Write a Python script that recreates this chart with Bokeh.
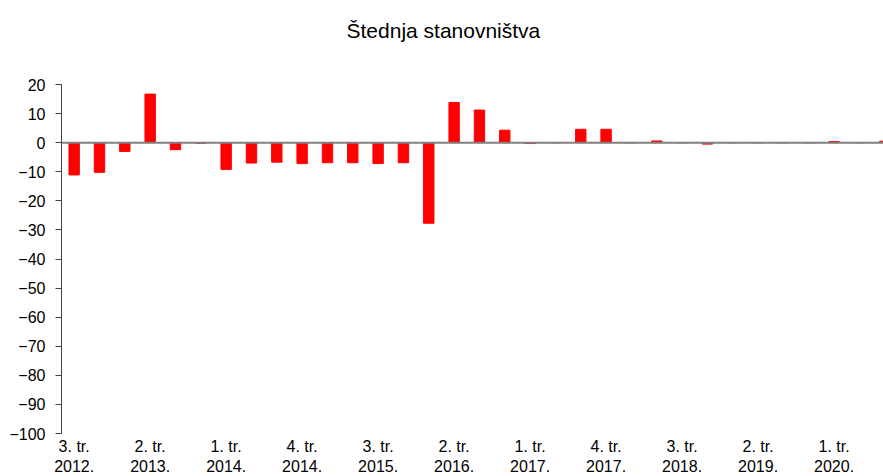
from bokeh.plotting import figure
from bokeh.models import Range1d, FixedTicker, Span, Title
from bokeh.embed import file_html
from bokeh.resources import INLINE

title_text = "Štednja stanovništva"

quarters = []
for y in range(2012, 2021):
    for q in range(1, 5):
        if (y == 2012 and q < 3) or (y == 2020 and q > 3):
            continue
        quarters.append(f"{q}. tr.\n{y}.")

values = [-11.1, -10.2, -3.0, 16.7, -2.4, -0.2, -9.2, -7.0, -6.7, -7.2,
          -6.9, -6.9, -7.2, -6.9, -27.7, 13.8, 11.2, 4.3, -0.3, 0.0,
          4.6, 4.6, 0.0, 0.6, 0.0, -0.5, 0.0, 0.0, 0.0, 0.0,
          0.4, 0.0, 0.5]

y_ticks = list(range(-100, 21, 10))

xs = list(range(1, len(quarters) + 1))
label_positions = xs[::3]

p = figure(width=883, height=476, output_backend="svg", toolbar_location=None,
           x_range=Range1d(0.5, 0.5 + 822 / 25.33), y_range=Range1d(-100, 20),
           min_border_left=61, min_border_right=0, min_border_top=84,
           min_border_bottom=43)
p.frame_width = 822
p.frame_height = 349

p.title.text = title_text
p.title.align = "left"
p.title.offset = 285
p.title.text_font = "Liberation Sans"
p.title.text_font_size = "21px"
p.title.text_font_style = "normal"
p.title.text_color = "black"
p.title.standoff = 0

# empty spacer panel between the title and the plot frame
spacer = Title(text=" ", text_font_size="10px", standoff=30)
p.above = [spacer] + [r for r in p.above if r is not spacer]

p.vbar(x=xs, top=values, bottom=0, width=0.41, color="#FF0000")

p.add_layout(Span(location=0, dimension="width", line_color="#808080", line_width=2))

p.xgrid.visible = False
p.ygrid.visible = False
p.outline_line_color = None
p.background_fill_color = "white"

xa = p.xaxis[0]
xa.ticker = FixedTicker(ticks=label_positions)
xa.major_label_overrides = {x: quarters[x - 1] for x in label_positions}
xa.axis_line_color = None
xa.major_tick_line_color = None
xa.minor_tick_line_color = None
xa.major_label_text_font = "Liberation Sans"
xa.major_label_text_font_size = "16px"
xa.major_label_text_color = "black"
xa.major_label_standoff = -2

ya = p.yaxis[0]
ya.ticker = FixedTicker(ticks=y_ticks)
ya.axis_line_color = "#404040"
ya.major_tick_line_color = "#404040"
ya.major_tick_out = 6
ya.major_tick_in = 0
ya.minor_tick_line_color = None
ya.major_label_text_font = "Liberation Sans"
ya.major_label_text_font_size = "16px"
ya.major_label_text_color = "black"
ya.major_label_standoff = 10

open("out.html", "w").write(file_html(p, INLINE))
